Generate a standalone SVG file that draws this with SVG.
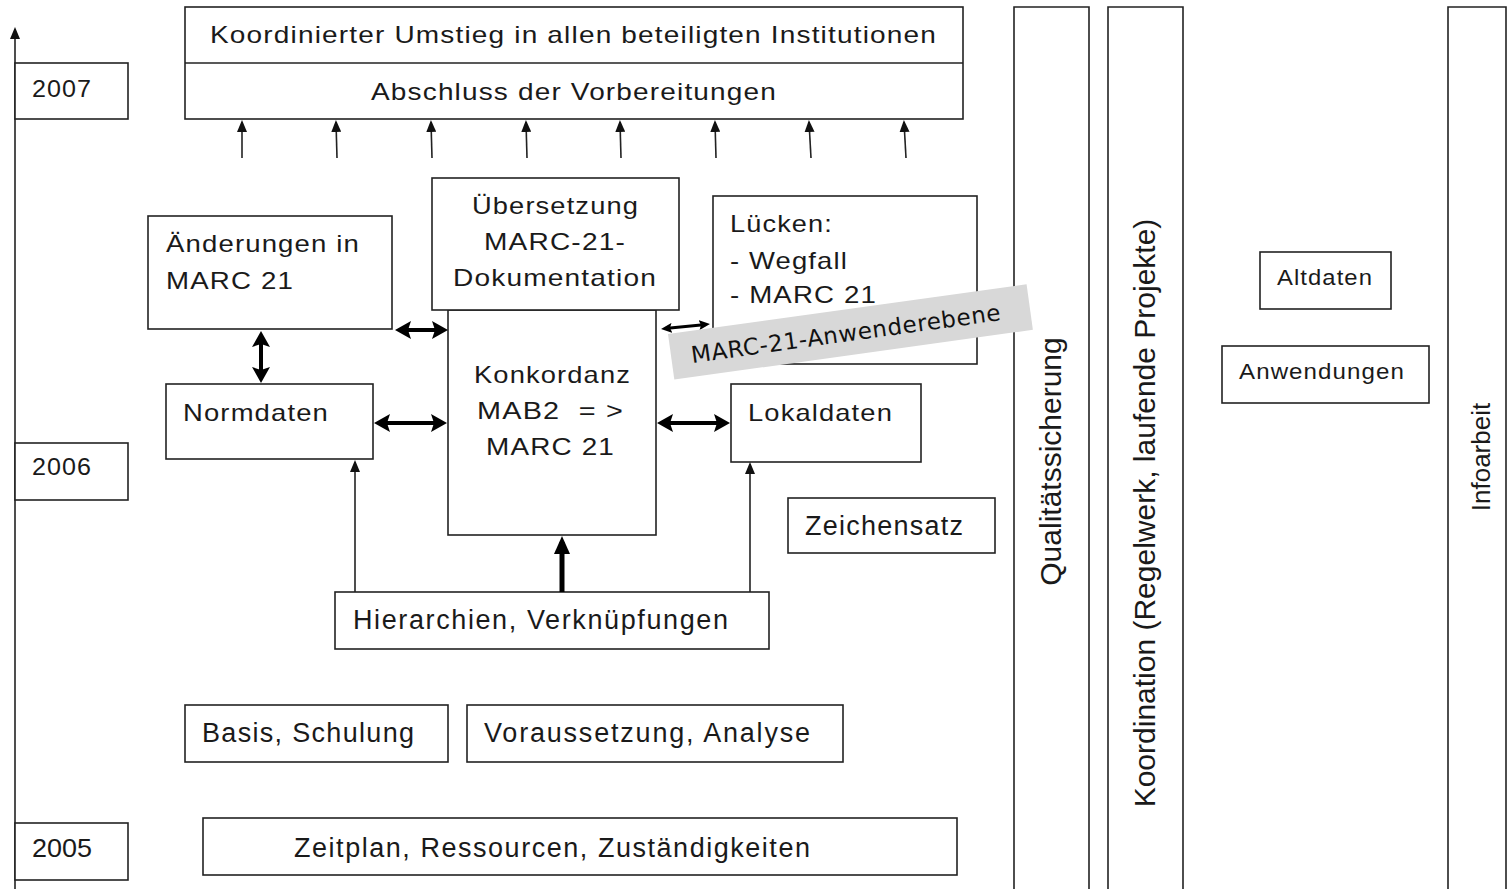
<svg xmlns="http://www.w3.org/2000/svg" width="1508" height="889" viewBox="0 0 1508 889">
<style>
.box{fill:#fff;stroke:#222;stroke-width:1.6}
.col{fill:none;stroke:#222;stroke-width:1.6}
.t{font-family:"Liberation Sans",Arial,sans-serif;font-size:24px;letter-spacing:1px;fill:#1a1a1a}
.tc{font-family:"Liberation Sans",Arial,sans-serif;font-size:27px;fill:#1a1a1a}
.tv{font-family:"Liberation Sans",Arial,sans-serif;font-size:30px;fill:#1a1a1a;text-anchor:middle}
.thin{stroke:#222;stroke-width:1.6;fill:none}
.dbl{stroke:#000;stroke-width:4;fill:none}
</style>
<defs>
<marker id="mThin" viewBox="0 0 12 10" refX="10" refY="5" markerWidth="12" markerHeight="10" markerUnits="userSpaceOnUse" orient="auto"><path d="M0,0 L12,5 L0,10 Z" fill="#111"/></marker>
<marker id="mDbl" viewBox="0 0 16 18" refX="10" refY="9" markerWidth="16" markerHeight="18" markerUnits="userSpaceOnUse" orient="auto-start-reverse"><path d="M0,0 L16,9 L0,18 L3,9 Z" fill="#000"/></marker>
<marker id="mDblS" viewBox="0 0 11 10" refX="7" refY="5" markerWidth="11" markerHeight="10" markerUnits="userSpaceOnUse" orient="auto-start-reverse"><path d="M0,0 L11,5 L0,10 L2,5 Z" fill="#000"/></marker>
<marker id="mThick" viewBox="0 0 18 16" refX="12" refY="8" markerWidth="18" markerHeight="16" markerUnits="userSpaceOnUse" orient="auto"><path d="M0,0 L18,8 L0,16 Z" fill="#000"/></marker>
</defs>
<rect width="1508" height="889" fill="#fff"/>

<g id="axis">
<line class="thin" x1="15" y1="889" x2="15" y2="29" marker-end="url(#mThin)"/>
</g>

<g id="year2007"><rect class="box" x="15" y="63" width="113" height="56"/><text class="t" x="32" y="97" textLength="60" lengthAdjust="spacingAndGlyphs">2007</text></g>
<g id="year2006"><rect class="box" x="15" y="443" width="113" height="57"/><text class="t" x="32" y="475" textLength="60" lengthAdjust="spacingAndGlyphs">2006</text></g>
<g id="year2005"><rect class="box" x="15" y="823" width="113" height="57"/><text class="tc" style="font-size:25px" x="32" y="857" textLength="60" lengthAdjust="spacingAndGlyphs">2005</text></g>

<g id="umstieg">
<rect class="box" x="185" y="7" width="778" height="112"/>
<line class="thin" x1="185" y1="63" x2="963" y2="63"/>
<text class="t" x="210" y="43" textLength="727" lengthAdjust="spacingAndGlyphs">Koordinierter Umstieg in allen beteiligten Institutionen</text>
<text class="t" x="371" y="100" textLength="406" lengthAdjust="spacingAndGlyphs">Abschluss der Vorbereitungen</text>
</g>

<g id="aenderungen">
<rect class="box" x="148" y="216" width="244" height="113"/>
<text class="t" x="166" y="252" textLength="194" lengthAdjust="spacingAndGlyphs">Änderungen in</text>
<text class="t" x="166" y="289" textLength="128" lengthAdjust="spacingAndGlyphs">MARC 21</text>
</g>

<g id="konkordanz">
<rect class="box" x="448" y="310" width="208" height="225"/>
<text class="t" x="474" y="383" textLength="157" lengthAdjust="spacingAndGlyphs">Konkordanz</text>
<text class="t" x="477" y="419" textLength="147" lengthAdjust="spacingAndGlyphs">MAB2&#160; = &gt;</text>
<text class="t" x="486" y="455" textLength="129" lengthAdjust="spacingAndGlyphs">MARC 21</text>
</g>

<g id="uebersetzung">
<rect class="box" x="432" y="178" width="247" height="132"/>
<text class="t" x="472" y="214" textLength="167" lengthAdjust="spacingAndGlyphs">Übersetzung</text>
<text class="t" x="484" y="250" textLength="142" lengthAdjust="spacingAndGlyphs">MARC-21-</text>
<text class="t" x="453" y="286" textLength="204" lengthAdjust="spacingAndGlyphs">Dokumentation</text>
</g>

<g id="luecken">
<rect class="box" x="713" y="196" width="264" height="168"/>
<text class="t" x="730" y="232" textLength="103" lengthAdjust="spacingAndGlyphs">Lücken:</text>
<text class="t" x="730" y="269" textLength="118" lengthAdjust="spacingAndGlyphs">- Wegfall</text>
<text class="t" x="730" y="303" textLength="147" lengthAdjust="spacingAndGlyphs">- MARC 21</text>
</g>

<g id="normdaten">
<rect class="box" x="166" y="384" width="207" height="75"/>
<text class="t" x="183" y="421" textLength="146" lengthAdjust="spacingAndGlyphs">Normdaten</text>
</g>

<g id="lokaldaten">
<rect class="box" x="731" y="384" width="190" height="78"/>
<text class="t" x="748" y="421" textLength="145" lengthAdjust="spacingAndGlyphs">Lokaldaten</text>
</g>

<g id="zeichensatz">
<rect class="box" x="788" y="498" width="207" height="55"/>
<text class="tc" x="805" y="535" textLength="158" lengthAdjust="spacing">Zeichensatz</text>
</g>

<g id="hierarchien">
<rect class="box" x="335" y="592" width="434" height="57"/>
<text class="tc" x="353" y="629" textLength="375" lengthAdjust="spacing">Hierarchien, Verknüpfungen</text>
</g>

<g id="basis">
<rect class="box" x="185" y="705" width="263" height="57"/>
<text class="tc" x="202" y="742" textLength="212" lengthAdjust="spacing">Basis, Schulung</text>
</g>

<g id="voraussetzung">
<rect class="box" x="467" y="705" width="376" height="57"/>
<text class="tc" x="484" y="742" textLength="326" lengthAdjust="spacing">Voraussetzung, Analyse</text>
</g>

<g id="zeitplan">
<rect class="box" x="203" y="818" width="754" height="57"/>
<text class="tc" x="294" y="857" textLength="516" lengthAdjust="spacing">Zeitplan, Ressourcen, Zuständigkeiten</text>
</g>

<g id="qualitaet">
<path class="col" d="M1014,889 V7 H1089 V889"/>
<text class="tv" transform="translate(1061,461.5) rotate(-90)">Qualitätssicherung</text>
</g>

<g id="koordination">
<path class="col" d="M1108,889 V7 H1183 V889"/>
<text class="tv" transform="translate(1155,513) rotate(-90)">Koordination (Regelwerk, laufende Projekte)</text>
</g>

<g id="infoarbeit">
<path class="col" d="M1448,889 V7 H1506 V889"/>
<text class="tv" style="font-size:26px" transform="translate(1490,457) rotate(-90)">Infoarbeit</text>
</g>

<g id="altdaten">
<rect class="box" x="1260" y="252" width="131" height="57"/>
<text class="t" style="font-size:22px" x="1277" y="285" textLength="96" lengthAdjust="spacingAndGlyphs">Altdaten</text>
</g>

<g id="anwendungen">
<rect class="box" x="1222" y="346" width="207" height="57"/>
<text class="t" style="font-size:22px" x="1239" y="379" textLength="166" lengthAdjust="spacingAndGlyphs">Anwendungen</text>
</g>

<g id="connectors">
<line class="thin" x1="242" y1="158" x2="242" y2="122" marker-end="url(#mThin)"/>
<line class="thin" x1="337" y1="158" x2="336" y2="122" marker-end="url(#mThin)"/>
<line class="thin" x1="432" y1="158" x2="431" y2="122" marker-end="url(#mThin)"/>
<line class="thin" x1="527" y1="158" x2="526" y2="122" marker-end="url(#mThin)"/>
<line class="thin" x1="621" y1="158" x2="620" y2="122" marker-end="url(#mThin)"/>
<line class="thin" x1="716" y1="158" x2="715" y2="122" marker-end="url(#mThin)"/>
<line class="thin" x1="811" y1="158" x2="809" y2="122" marker-end="url(#mThin)"/>
<line class="thin" x1="906" y1="158" x2="904" y2="122" marker-end="url(#mThin)"/>

<line class="dbl" x1="261" y1="337" x2="261" y2="377" marker-start="url(#mDbl)" marker-end="url(#mDbl)"/>
<line class="dbl" x1="401" y1="330" x2="442" y2="330" marker-start="url(#mDbl)" marker-end="url(#mDbl)"/>
<line class="dbl" x1="380" y1="423" x2="441" y2="423" marker-start="url(#mDbl)" marker-end="url(#mDbl)"/>
<line class="dbl" x1="663" y1="423" x2="724" y2="423" marker-start="url(#mDbl)" marker-end="url(#mDbl)"/>
<line class="dbl" style="stroke-width:3" x1="665" y1="328.6" x2="706" y2="324.4" marker-start="url(#mDblS)" marker-end="url(#mDblS)"/>

<line class="thin" x1="355" y1="592" x2="355" y2="462" marker-end="url(#mThin)"/>
<line class="thin" x1="750" y1="592" x2="750" y2="464" marker-end="url(#mThin)"/>
<line class="dbl" style="stroke-width:5" x1="562" y1="592" x2="562" y2="542" marker-end="url(#mThick)"/>
</g>

<g id="anwenderebene" transform="translate(668,334) rotate(-7.9)">
<rect x="0" y="0" width="362" height="46" fill="#d8d8d8"/>
<text x="20" y="32" textLength="312" lengthAdjust="spacing" style="font-family:'DejaVu Sans',Verdana,sans-serif;font-size:23px;fill:#111">MARC-21-Anwenderebene</text>
</g>
</svg>
